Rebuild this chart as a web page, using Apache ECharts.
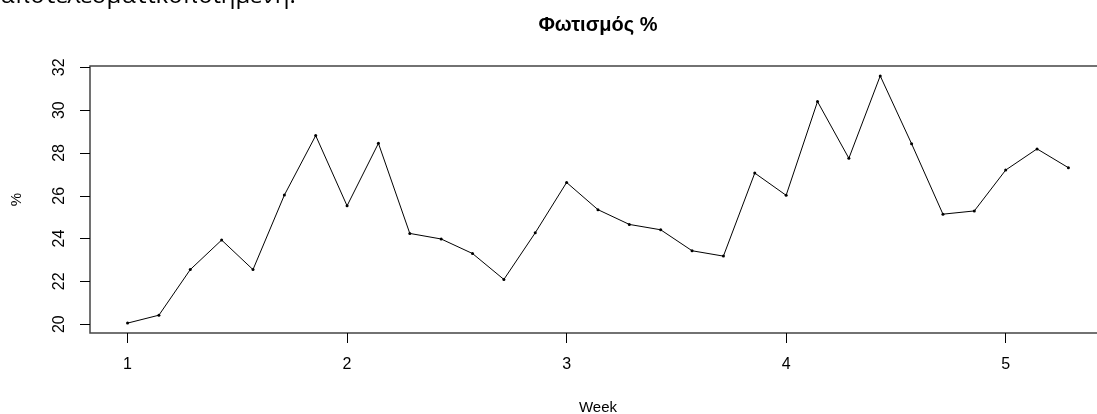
<!DOCTYPE html>
<html>
<head>
<meta charset="utf-8">
<script src="https://cdn.jsdelivr.net/npm/echarts@6/dist/echarts.min.js"></script>
<style>
html,body{margin:0;padding:0;background:#fff;}
#c{width:1097px;height:414px;}
</style>
</head>
<body>
<div id="c"></div>
<script>
// Observation day index (0 = first day of week 1), one observation per day
const dayIndex = [0,1,2,3,4,5,6,7,8,9,10,11,12,13,14,15,16,17,18,19,20,21,22,23,24,25,26,27,28,29,30];
// Lighting percentage values
const lightingPct = [20.05,20.42,22.55,23.93,22.55,26.03,28.81,25.53,28.45,24.24,
                     23.98,23.30,22.09,24.27,26.62,25.35,24.66,24.41,23.43,23.18,
                     27.06,26.02,30.40,27.75,31.60,28.43,25.14,25.29,27.20,28.19,27.31];
const xTicks = [1,2,3,4,5];
const yTicks = [20,22,24,26,28,30,32];
const titleText = 'Φωτισμός %';
const xName = 'Week';
const yName = '%';
const topFragment = 'αποτελεσματικοποιημένη.';

const points = dayIndex.map((d,i)=>[1 + d/7, lightingPct[i]]);

const chart = echarts.init(document.getElementById('c'), null, {renderer:'canvas'});
const FONT = '"Liberation Sans", Arial, sans-serif';
chart.setOption({
  animation:false,
  backgroundColor:'#fff',
  grid:{left:90, top:66, right:-9, bottom:81, outerBoundsMode:'none', containLabel:false,
        show:true, borderColor:'#444', borderWidth:1.5, backgroundColor:'transparent'},
  graphic:[
    {type:'text', x:598, y:25, style:{text:titleText, font:'bold 20px ' + FONT, fill:'#000', textAlign:'center', textVerticalAlign:'middle'}},
    {type:'text', x:0, y:-4, style:{text:topFragment, font:'24px "Open Sans", "Noto Sans", sans-serif', fill:'#000', textAlign:'left', textVerticalAlign:'middle'}}
  ],
  xAxis:{
    type:'value', min:0.829, max:5.457,
    splitLine:{show:false},
    axisLine:{show:false},
    axisTick:{show:true, length:10, inside:false, customValues:xTicks, lineStyle:{color:'#000', width:1}},
    axisLabel:{show:true, customValues:xTicks, margin:24, color:'#000', fontSize:16, fontFamily:FONT},
    name:xName, nameLocation:'middle', nameGap:67,
    nameTextStyle:{color:'#000', fontSize:15, fontFamily:FONT}
  },
  yAxis:{
    type:'value', min:19.588, max:32.062,
    splitLine:{show:false},
    axisLine:{show:false},
    axisTick:{show:true, length:10, inside:false, customValues:yTicks, lineStyle:{color:'#000', width:1}},
    axisLabel:{show:true, customValues:yTicks, rotate:90, margin:22, color:'#000', fontSize:16, fontFamily:FONT},
    name:yName, nameLocation:'middle', nameGap:66, nameRotate:90,
    nameTextStyle:{color:'#000', fontSize:15, fontFamily:FONT}
  },
  series:[{
    type:'line',
    data:points,
    symbol:'circle', symbolSize:3,
    itemStyle:{color:'#000'},
    lineStyle:{color:'#000', width:1},
    silent:true
  }]
});
</script>
</body>
</html>
